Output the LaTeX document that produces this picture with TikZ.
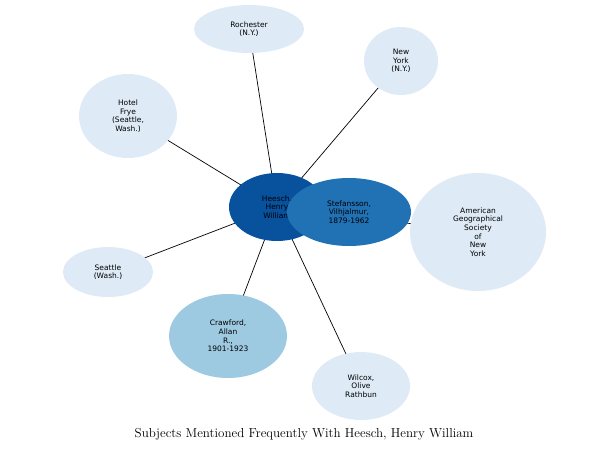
\documentclass[tikz,border=0pt]{standalone}
\usepackage{fontspec}
\newfontfamily\dv{DejaVu Sans}
\usetikzlibrary{shapes.geometric}
\definecolor{lt}{HTML}{DEEBF7}
\definecolor{md}{HTML}{9ECAE1}
\definecolor{dk}{HTML}{08519C}
\definecolor{bl}{HTML}{2171B5}
\begin{document}
\begin{tikzpicture}[x=1pt,y=-1pt,
  el/.style={ellipse,inner sep=0pt,align=center,font=\dv\fontsize{7.5}{8.6}\selectfont},
  e/.style={draw=black,line width=0.7pt}]
\useasboundingbox (0,0) rectangle (609,455);
\coordinate (H) at (277,207);
\coordinate (S) at (349,212);
\coordinate (R) at (249,29);
\coordinate (N) at (401,61);
\coordinate (F) at (128,116);
\coordinate (A) at (478,232);
\coordinate (W) at (108,272);
\coordinate (C) at (228,336);
\coordinate (O) at (361,386);
\foreach \t in {R,N,F,A,W,C,O} \draw[e] (H) -- (\t);
\fill[lt] (R) ellipse (55 and 24); \node[el] (r) at (R) {Rochester\\(N.Y.)};
\fill[lt] (N) ellipse (37 and 34); \node[el] (n) at (N) {New\\York\\(N.Y.)};
\fill[lt] (F) ellipse (49 and 42); \node[el] (f) at (F) {Hotel\\Frye\\(Seattle,\\Wash.)};
\fill[lt] (A) ellipse (68 and 59); \node[el] (a) at (A) {American\\Geographical\\Society\\of\\New\\York};
\fill[lt] (W) ellipse (45 and 25); \node[el] (w) at (W) {Seattle\\(Wash.)};
\fill[md] (C) ellipse (59 and 42); \node[el] (c) at (C) {Crawford,\\Allan\\R.,\\1901-1923};
\fill[lt] (O) ellipse (49 and 34); \node[el] (o) at (O) {Wilcox,\\Olive\\Rathbun};
\fill[dk] (H) ellipse (48 and 34); \node[el] (h) at (H) {Heesch,\\Henry\\William};
\fill[bl] (S) ellipse (62 and 34); \node[el] (s) at (S) {Stefansson,\\Vilhjalmur,\\1879-1962};
\node (t) at (304,434) {\fontsize{13}{15}\selectfont Subjects Mentioned Frequently With Heesch, Henry William};
\end{tikzpicture}
\end{document}
